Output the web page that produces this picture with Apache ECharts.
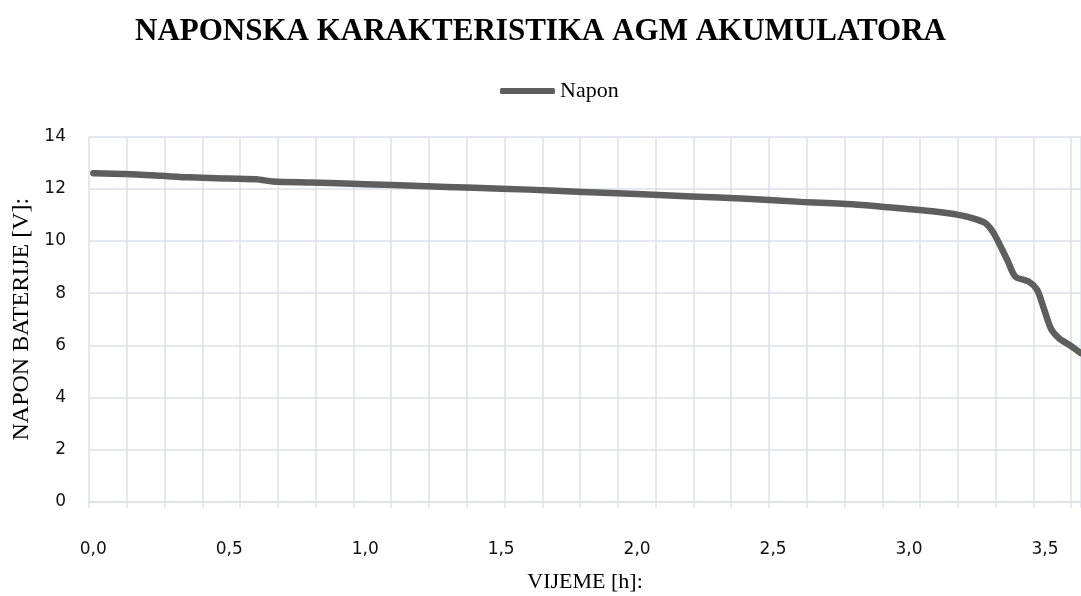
<!DOCTYPE html>
<html>
<head>
<meta charset="utf-8">
<title>Naponska karakteristika AGM akumulatora</title>
<script src="https://cdn.jsdelivr.net/npm/echarts@6/dist/echarts.min.js"></script>
<style>
  html, body { margin: 0; padding: 0; background: #fff; }
  #chart { width: 1081px; height: 596px; }
</style>
</head>
<body>
<div id="chart"></div>
<script>
// vrijeme [h] i napon [V] ocitani s grafa
const vrijeme = [0, 0.12, 0.25, 0.35, 0.45, 0.6, 0.66, 0.8, 1.0, 1.2, 1.4, 1.6, 1.8, 2.0, 2.2, 2.4, 2.6, 2.8, 3.0,
  3.1, 3.18, 3.24, 3.28, 3.31, 3.36, 3.39, 3.44, 3.47, 3.49, 3.52, 3.55, 3.59, 3.63];
const napon = [12.60, 12.57, 12.50, 12.44, 12.41, 12.37, 12.28, 12.24, 12.18, 12.11, 12.04, 11.97, 11.88, 11.80, 11.71,
  11.62, 11.50, 11.40, 11.22, 11.12, 11.00, 10.85, 10.68, 10.30, 9.27, 8.63, 8.44, 8.12, 7.55, 6.65, 6.27, 6.00, 5.70];
const yTicks = [0, 2, 4, 6, 8, 10, 12, 14];
const xTicks = [0, 0.5, 1.0, 1.5, 2.0, 2.5, 3.0, 3.5];

const gridColor = '#DDE2EA';
const lineColor = '#5E5E5E';
const serif = '"Liberation Serif", "Times New Roman", serif';
const sans = '"DejaVu Sans", sans-serif';

const myChart = echarts.init(document.getElementById('chart'));

// sve tri mreze dijele isti okvir po visini
const gridBox = {top: 136.7, bottom: 94.3, outerBoundsMode: 'none', containLabel: false};

const option = {
  animation: false,
  title: {
    text: 'NAPONSKA KARAKTERISTIKA AGM AKUMULATORA',
    left: 'center',
    top: 11,
    textStyle: {fontFamily: serif, fontWeight: 'bold', fontSize: 31, color: '#000'}
  },
  legend: {
    data: ['Napon'],
    left: 495,
    top: 75,
    icon: 'roundRect',
    itemWidth: 55,
    itemHeight: 6,
    itemGap: 5,
    textStyle: {fontFamily: serif, fontSize: 22, color: '#000'}
  },
  grid: [
    // mreza (okomite linije u pravilnom razmaku)
    Object.assign({left: 89, right: 0}, gridBox),
    // oznake osi: 0,0 .. 3,5
    Object.assign({left: 93.3, right: 36}, gridBox),
    // podrucje podataka do desnog ruba
    Object.assign({left: 93.3, right: 0}, gridBox)
  ],
  xAxis: [
    {
      gridIndex: 0,
      type: 'value',
      min: 0,
      max: 26.26,
      interval: 1,
      name: 'VIJEME [h]:',
      nameLocation: 'middle',
      nameGap: 70,
      nameTextStyle: {fontFamily: serif, fontSize: 22, color: '#000'},
      axisLine: {show: true, lineStyle: {color: gridColor, width: 1.5}},
      axisTick: {show: true, length: 6, lineStyle: {color: gridColor, width: 1.5}},
      axisLabel: {show: false},
      splitLine: {show: true, lineStyle: {color: gridColor, width: 1.5}}
    },
    {
      gridIndex: 1,
      type: 'value',
      min: xTicks[0],
      max: xTicks[xTicks.length - 1],
      interval: 0.5,
      axisLine: {show: false},
      axisTick: {show: false},
      splitLine: {show: false},
      axisLabel: {
        margin: 39,
        fontFamily: sans,
        fontSize: 17,
        color: '#111',
        formatter: v => v.toFixed(1).replace('.', ',')
      }
    },
    {
      gridIndex: 2,
      type: 'value',
      min: 0,
      max: 3.631,
      show: false
    }
  ],
  yAxis: [
    {
      gridIndex: 0,
      type: 'value',
      min: yTicks[0],
      max: yTicks[yTicks.length - 1],
      interval: 2,
      name: 'NAPON BATERIJE [V]:',
      nameLocation: 'middle',
      nameRotate: 90,
      nameGap: 52,
      nameTextStyle: {fontFamily: serif, fontSize: 24, color: '#000'},
      axisLine: {show: false},
      axisTick: {show: false},
      axisLabel: {margin: 23, fontFamily: sans, fontSize: 17, color: '#111'},
      splitLine: {lineStyle: {color: gridColor, width: 1.5}}
    },
    {
      gridIndex: 1,
      type: 'value',
      min: yTicks[0],
      max: yTicks[yTicks.length - 1],
      interval: 2,
      show: false
    },
    {
      gridIndex: 2,
      type: 'value',
      min: yTicks[0],
      max: yTicks[yTicks.length - 1],
      interval: 2,
      show: false
    }
  ],
  series: [
    {
      name: 'Napon',
      type: 'line',
      xAxisIndex: 2,
      yAxisIndex: 2,
      data: vrijeme.map((t, i) => [t, napon[i]]),
      symbol: 'none',
      smooth: 0.25,
      itemStyle: {color: lineColor},
      lineStyle: {color: lineColor, width: 6.5, cap: 'round', join: 'round'}
    }
  ]
};

myChart.setOption(option);
</script>
</body>
</html>
